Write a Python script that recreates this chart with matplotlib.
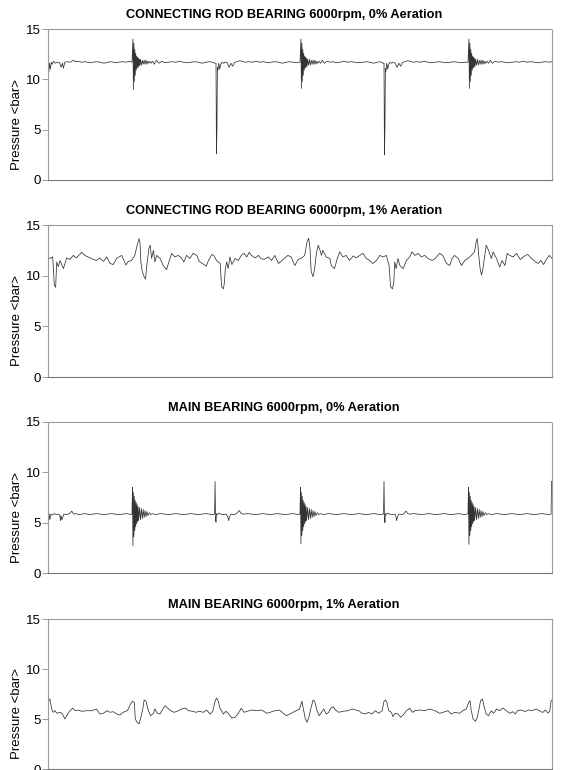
import matplotlib
matplotlib.use("Agg")
import matplotlib.pyplot as plt

# -------------------------------------------------------------------
# DATA (crank angle in degrees, pressure in bar)
# -------------------------------------------------------------------
titles = [
    "CONNECTING ROD BEARING 6000rpm, 0% Aeration",
    "CONNECTING ROD BEARING 6000rpm, 1% Aeration",
    "MAIN BEARING 6000rpm, 0% Aeration",
    "MAIN BEARING 6000rpm, 1% Aeration",
]
y_ticks = [0, 5, 10, 15]
y_label = "Pressure <bar>"

crod0_deg = [
    0, 1, 2, 3, 5, 7, 9, 12, 16, 20,
    25, 28, 31, 33, 36, 42, 48, 54, 58, 64,
    72, 80, 88, 96, 104, 112, 120, 128, 136, 144,
    152, 160, 168, 175, 180, 182, 183, 184, 185, 186,
    187, 188, 189, 190, 191, 192, 193, 194, 195, 196,
    197, 198, 200, 202, 204, 206, 208, 210, 212, 214,
    216, 218, 221, 224, 228, 232, 238, 244, 250, 258,
    266, 274, 282, 290, 298, 306, 314, 322, 330, 338,
    346, 352, 358, 360, 361, 362, 363, 364, 366, 368,
    370, 373, 376, 380, 384, 388, 392, 396, 400, 405,
    410, 416, 422, 430, 438, 446, 454, 462, 470, 478,
    486, 494, 502, 510, 518, 526, 534, 540, 542, 543,
    544, 545, 546, 547, 548, 549, 550, 551, 552, 553,
    554, 555, 556, 558, 560, 562, 564, 566, 568, 570,
    572, 574, 576, 578, 581, 584, 588, 592, 598, 604,
    610, 618, 626, 634, 642, 650, 658, 666, 674, 682,
    690, 698, 706, 712, 718, 720, 721, 722, 723, 724,
    726, 728, 730, 733, 736, 740, 744, 748, 752, 756,
    760, 765, 770, 776, 782, 790, 798, 806, 814, 822,
    830, 838, 846, 854, 862, 870, 878, 886, 894, 900,
    902, 903, 904, 905, 906, 907, 908, 909, 910, 911,
    912, 913, 914, 915, 916, 918, 920, 922, 924, 926,
    928, 930, 932, 934, 936, 938, 941, 944, 948, 952,
    958, 964, 970, 978, 986, 994, 1002, 1010, 1018, 1026,
    1034, 1042, 1050, 1058, 1066, 1074, 1080,
]
crod0_bar = [
    11.4, 11.7, 10.8, 11.6, 11.0, 11.7, 11.5, 11.8, 11.6, 11.7,
    11.65, 11.2, 11.6, 11.1, 11.7, 11.75, 11.7, 11.9, 11.75, 11.8,
    11.7, 11.75, 11.65, 11.7, 11.75, 11.7, 11.6, 11.7, 11.75, 11.65,
    11.7, 11.75, 11.7, 11.8, 11.7, 14.0, 9.0, 13.6, 9.8, 13.0,
    10.4, 12.6, 10.9, 12.3, 11.1, 12.2, 11.2, 12.1, 11.3, 12.0,
    11.4, 12.0, 11.4, 11.9, 11.5, 11.9, 11.5, 11.9, 11.5, 11.8,
    11.6, 11.8, 11.6, 11.8, 11.5, 11.9, 11.6, 11.8, 11.65, 11.7,
    11.75, 11.7, 11.8, 11.7, 11.65, 11.7, 11.75, 11.7, 11.6, 11.7,
    11.75, 11.7, 11.6, 11.6, 2.6, 5.0, 11.2, 10.9, 11.6, 11.0,
    11.5, 11.7, 11.6, 11.7, 11.65, 11.2, 11.6, 11.3, 11.7, 11.75,
    11.85, 11.8, 11.7, 11.75, 11.7, 11.8, 11.7, 11.75, 11.65, 11.7,
    11.75, 11.7, 11.6, 11.7, 11.75, 11.7, 11.65, 11.7, 14.0, 9.1,
    13.6, 9.8, 13.0, 10.4, 12.6, 10.9, 12.3, 11.1, 12.2, 11.2,
    12.1, 11.3, 12.0, 11.4, 12.0, 11.4, 11.9, 11.5, 11.9, 11.5,
    11.9, 11.5, 11.8, 11.6, 11.8, 11.6, 11.9, 11.6, 11.8, 11.7,
    11.75, 11.65, 11.7, 11.8, 11.7, 11.75, 11.7, 11.65, 11.7, 11.75,
    11.7, 11.6, 11.7, 11.75, 11.6, 11.6, 2.5, 5.2, 11.1, 10.8,
    11.6, 11.0, 11.5, 11.7, 11.6, 11.7, 11.6, 11.2, 11.6, 11.3,
    11.7, 11.75, 11.85, 11.8, 11.7, 11.75, 11.7, 11.8, 11.7, 11.65,
    11.7, 11.75, 11.7, 11.65, 11.7, 11.75, 11.7, 11.65, 11.7, 11.7,
    14.0, 9.1, 13.6, 9.8, 13.0, 10.4, 12.6, 10.9, 12.3, 11.1,
    12.2, 11.2, 12.1, 11.3, 12.0, 11.4, 12.0, 11.4, 11.9, 11.5,
    11.9, 11.5, 11.9, 11.5, 11.8, 11.6, 11.8, 11.6, 11.9, 11.6,
    11.8, 11.7, 11.75, 11.7, 11.65, 11.7, 11.75, 11.7, 11.8, 11.7,
    11.75, 11.7, 11.65, 11.7, 11.75, 11.7, 11.75,
]

crod1_deg = [
    0, 4, 10, 13.6, 16.4, 18.6, 22, 25.7, 33, 40,
    47, 54, 61, 72, 79, 90, 97, 104, 111, 119,
    126, 133, 140, 147, 158, 167, 172, 179, 186, 191,
    195, 197, 199, 202, 206, 209, 211, 216, 219, 222,
    226, 229, 233, 240, 247, 254, 258, 265, 272, 279,
    286, 291, 297, 304, 311, 319, 324, 331, 339, 344,
    351, 356, 361, 369, 372, 376, 378, 380, 383, 386,
    390, 394, 401, 408, 415, 420, 426, 431, 436, 444,
    451, 456, 463, 472, 479, 486, 494, 504, 514, 521,
    529, 536, 544, 550, 555, 558.6, 561.5, 564, 568, 571.5,
    575, 579, 582, 586, 589, 596, 604, 607, 614, 620,
    625, 632, 639, 646, 654, 661, 668, 675, 682, 689,
    696, 704, 711, 718, 725, 731, 734, 738, 741, 743,
    746, 750, 754, 761, 768, 775, 780, 786, 793, 800,
    807, 814, 823, 830, 839, 846, 854, 861, 866, 871,
    879, 886, 893, 900, 907, 914, 918, 920, 923, 926,
    929, 932, 936, 939, 944, 950, 954, 961, 968, 973,
    979, 984, 989, 997, 1004, 1012, 1020, 1028, 1036, 1044,
    1050, 1056, 1062, 1068, 1074, 1080,
]
crod1_bar = [
    11.8, 11.7, 11.85, 9.05, 8.85, 11.35, 10.9, 11.5, 10.7, 11.75,
    11.6, 12.0, 11.75, 12.3, 12.0, 11.75, 11.6, 11.5, 11.75, 11.4,
    11.85, 11.2, 11.1, 11.7, 12.0, 11.05, 11.4, 11.5, 12.0, 13.0,
    13.65, 13.3, 11.35, 10.4, 9.9, 9.65, 10.7, 12.65, 13.0, 11.7,
    12.5, 11.35, 12.0, 11.7, 11.0, 10.6, 11.2, 12.2, 11.85, 12.0,
    11.75, 11.35, 12.0, 11.7, 12.2, 12.0, 11.4, 11.2, 10.95, 11.5,
    12.1, 11.95, 11.5, 11.2, 8.9, 8.7, 9.35, 10.7, 11.35, 10.7,
    11.85, 11.1, 11.7, 11.5, 12.05, 12.2, 11.85, 12.3, 12.0, 11.75,
    12.0, 11.7, 11.6, 11.85, 11.5, 12.0, 11.2, 11.6, 12.0, 11.85,
    11.0, 11.6, 11.75, 12.0, 13.3, 13.7, 12.65, 10.4, 9.9, 10.7,
    12.2, 13.0, 12.65, 12.0, 12.5, 11.85, 11.7, 11.0, 10.7, 11.7,
    12.35, 11.85, 12.0, 11.5, 11.95, 11.75, 12.0, 12.2, 11.7, 11.5,
    11.2, 11.5, 12.0, 11.85, 12.0, 11.0, 8.9, 8.7, 9.35, 11.35,
    10.7, 11.7, 11.0, 10.7, 11.5, 11.85, 12.35, 12.0, 12.2, 11.85,
    12.0, 11.7, 11.5, 11.7, 12.2, 12.0, 11.2, 11.0, 11.7, 12.0,
    11.7, 11.0, 11.5, 11.7, 12.0, 12.35, 13.5, 13.65, 12.0, 10.7,
    10.05, 10.7, 12.0, 13.0, 12.5, 11.7, 12.35, 11.7, 10.85, 11.5,
    11.0, 12.2, 12.0, 11.85, 12.2, 11.6, 11.9, 12.1, 11.7, 11.4,
    11.2, 11.5, 11.1, 11.6, 12.0, 11.7,
]

main0_deg = [
    0, 1, 2, 4, 6, 9, 13, 18, 22, 25,
    27, 28, 30, 34, 40, 46, 51, 55, 60, 66,
    72, 80, 88, 96, 104, 112, 120, 128, 136, 144,
    152, 160, 168, 174, 178, 180, 181, 182, 183, 184,
    185, 186, 187, 188, 189, 190, 191, 192, 193, 194,
    196, 198, 200, 202, 204, 206, 208, 210, 212, 214,
    217, 220, 224, 230, 236, 242, 250, 258, 266, 274,
    282, 290, 298, 306, 314, 322, 330, 338, 346, 354,
    357, 358, 359, 360, 361, 363, 366, 370, 376, 382,
    386, 387, 389, 392, 398, 404, 410, 414, 420, 428,
    436, 444, 452, 460, 468, 476, 484, 492, 500, 508,
    516, 524, 532, 538, 540, 541, 542, 543, 544, 545,
    546, 547, 548, 549, 550, 551, 552, 553, 554, 556,
    558, 560, 562, 564, 566, 568, 570, 572, 574, 577,
    580, 584, 590, 596, 602, 610, 618, 626, 634, 642,
    650, 658, 666, 674, 682, 690, 698, 706, 714, 719,
    720, 721, 722, 723, 725, 728, 732, 738, 744, 746,
    747, 749, 752, 758, 763, 767, 771, 776, 784, 792,
    800, 808, 816, 824, 832, 840, 848, 856, 864, 872,
    880, 886, 892, 898, 900, 901, 902, 903, 904, 905,
    906, 907, 908, 909, 910, 911, 912, 913, 914, 916,
    918, 920, 922, 924, 926, 928, 930, 932, 934, 937,
    940, 944, 950, 956, 962, 970, 978, 986, 994, 1002,
    1010, 1018, 1026, 1034, 1042, 1050, 1058, 1066, 1074, 1078,
    1079, 1080,
]
main0_bar = [
    5.7, 4.95, 5.9, 5.3, 5.85, 5.75, 5.9, 5.8, 5.85, 5.75,
    5.2, 5.7, 5.3, 5.85, 5.8, 5.9, 6.15, 5.85, 5.9, 5.8,
    5.85, 5.9, 5.8, 5.85, 5.9, 5.85, 5.8, 5.85, 5.9, 5.85,
    5.8, 5.85, 5.9, 5.85, 5.8, 5.9, 8.5, 2.7, 8.0, 3.6,
    7.6, 4.2, 7.2, 4.6, 7.0, 4.9, 6.8, 5.1, 6.6, 5.2,
    6.5, 5.3, 6.4, 5.4, 6.3, 5.5, 6.2, 5.6, 6.1, 5.7,
    6.0, 5.8, 5.9, 5.8, 5.85, 5.9, 5.85, 5.8, 5.85, 5.9,
    5.85, 5.8, 5.85, 5.9, 5.85, 5.8, 5.85, 5.9, 5.85, 5.8,
    5.85, 9.1, 5.4, 5.05, 5.9, 5.8, 5.95, 5.85, 5.8, 5.85,
    5.5, 5.2, 5.6, 5.85, 5.8, 5.9, 6.2, 5.9, 5.85, 5.9,
    5.85, 5.8, 5.85, 5.9, 5.85, 5.8, 5.85, 5.9, 5.85, 5.8,
    5.85, 5.9, 5.85, 5.8, 5.9, 8.5, 2.9, 8.0, 3.7, 7.6,
    4.2, 7.2, 4.6, 7.0, 4.9, 6.8, 5.1, 6.6, 5.2, 6.5,
    5.3, 6.4, 5.4, 6.3, 5.5, 6.2, 5.6, 6.1, 5.7, 6.0,
    5.8, 5.9, 5.8, 5.85, 5.9, 5.85, 5.8, 5.85, 5.9, 5.85,
    5.8, 5.85, 5.9, 5.85, 5.8, 5.85, 5.9, 5.85, 5.8, 5.85,
    9.1, 5.5, 5.0, 5.9, 5.8, 5.95, 5.85, 5.8, 5.85, 5.5,
    5.2, 5.6, 5.85, 5.8, 5.9, 6.15, 5.9, 5.85, 5.9, 5.85,
    5.8, 5.85, 5.9, 5.85, 5.8, 5.85, 5.9, 5.85, 5.8, 5.85,
    5.9, 5.85, 5.8, 5.85, 5.9, 8.5, 2.85, 8.0, 3.7, 7.6,
    4.2, 7.2, 4.6, 7.0, 4.9, 6.8, 5.1, 6.6, 5.2, 6.5,
    5.3, 6.4, 5.4, 6.3, 5.5, 6.2, 5.6, 6.1, 5.7, 6.0,
    5.8, 5.9, 5.8, 5.85, 5.9, 5.85, 5.8, 5.85, 5.9, 5.85,
    5.8, 5.85, 5.9, 5.85, 5.8, 5.85, 5.9, 5.85, 5.8, 5.85,
    9.1, 9.1,
]

main1_deg = [
    0, 2, 4, 8, 11, 15, 19, 26, 31, 36,
    40, 47, 53, 58, 65, 72, 83, 94, 104, 111,
    119, 126, 133, 140, 147, 154, 161, 170, 177, 181,
    185, 187, 191, 195, 199, 203, 206, 210, 215, 220,
    226, 229, 234, 240, 246, 251, 256, 263, 270, 277,
    286, 294, 301, 310, 317, 324, 333, 340, 347, 353,
    358, 361, 365, 369, 372, 376, 381, 386, 394, 401,
    408, 414, 420, 427, 436, 447, 458, 469, 476, 486,
    496, 504, 511, 518, 525, 532, 539, 544, 548, 551.5,
    555, 559, 563, 568, 571.5, 576.5, 581, 586, 591, 596.5,
    601.5, 606, 611, 616, 623, 632, 643, 651.5, 659, 666,
    673, 680, 687, 694, 701.5, 708.6, 716, 720, 723, 726,
    730, 736, 739, 744, 750, 756, 763, 768, 775, 781,
    787, 796.5, 807, 818, 829, 839, 846.5, 857, 864, 871.5,
    882, 889, 896.5, 901.5, 904.3, 907, 911, 916, 920, 923.6,
    927, 931, 934, 939, 944, 950, 955, 961, 968, 975,
    982, 989, 996.5, 1001.5, 1006, 1014, 1022, 1030, 1038, 1046,
    1054, 1060, 1066, 1071, 1075, 1078, 1080,
]
main1_bar = [
    6.2, 6.9, 7.0, 6.0, 5.67, 5.83, 5.57, 5.67, 5.5, 5.0,
    5.33, 5.83, 6.1, 5.83, 5.9, 5.77, 5.83, 5.83, 6.0, 5.5,
    5.57, 5.83, 5.67, 5.73, 5.5, 5.4, 5.67, 5.83, 6.5, 6.77,
    6.67, 5.0, 4.67, 4.5, 5.17, 6.0, 6.9, 6.77, 5.83, 5.33,
    5.57, 6.0, 5.57, 5.5, 6.0, 6.33, 6.1, 5.83, 5.67, 5.77,
    6.0, 6.1, 5.83, 5.77, 5.67, 5.77, 5.67, 5.9, 5.5, 5.77,
    6.77, 7.1, 6.77, 6.0, 5.83, 5.5, 5.77, 5.57, 5.1, 5.17,
    5.57, 6.07, 5.67, 5.77, 5.9, 5.83, 5.9, 5.57, 5.67, 5.83,
    5.9, 5.57, 5.33, 5.5, 5.67, 5.83, 6.0, 6.77, 5.83, 5.0,
    4.67, 5.17, 6.0, 6.9, 6.77, 5.83, 5.33, 5.67, 6.0, 5.5,
    5.67, 6.07, 6.23, 5.9, 5.67, 5.77, 5.83, 6.0, 5.9, 5.83,
    5.57, 5.5, 5.67, 5.5, 5.83, 5.57, 5.83, 6.77, 6.9, 6.67,
    5.83, 5.67, 5.23, 5.57, 5.5, 5.17, 5.5, 5.83, 6.07, 5.67,
    5.83, 5.9, 5.83, 6.0, 5.83, 5.57, 5.67, 5.83, 5.5, 5.67,
    5.57, 5.83, 6.0, 6.67, 6.83, 5.83, 5.0, 4.77, 5.17, 6.0,
    6.83, 7.0, 6.33, 5.5, 5.33, 5.83, 5.57, 6.0, 5.83, 6.1,
    5.83, 5.57, 5.73, 5.5, 5.83, 5.9, 5.75, 5.9, 5.85, 6.0,
    5.8, 5.65, 5.9, 5.6, 5.75, 6.8, 6.9,
]

series = [
    (crod0_deg, crod0_bar),
    (crod1_deg, crod1_bar),
    (main0_deg, main0_bar),
    (main1_deg, main1_bar),
]

# -------------------------------------------------------------------
# FIGURE: four stacked panels, 561 x 770 px
# -------------------------------------------------------------------
plt.rcParams["font.family"] = ["Liberation Sans", "DejaVu Sans"]

fig = plt.figure(figsize=(5.61, 7.70), dpi=100)

# panel boxes in pixels: (top, bottom)
left_px, right_px = 48, 552
panel_px = [(29, 180), (225, 377), (422, 573), (619, 769)]

for (top, bottom), title, (deg, bar) in zip(panel_px, titles, series):
    ax = fig.add_axes([
        left_px / 561,
        1 - bottom / 770,
        (right_px - left_px) / 561,
        (bottom - top) / 770,
    ])
    ax.plot(deg, bar, color="#333333", linewidth=0.55)

    ax.set_xlim(0, 1080)
    ax.set_ylim(0, 15)
    ax.set_xticks([])
    ax.set_yticks(y_ticks)
    ax.tick_params(axis="y", length=4, width=0.6, color="#888888",
                   labelsize=9.5, pad=1)

    for side in ["top", "right", "left"]:
        ax.spines[side].set_color("#9a9a9a")
        ax.spines[side].set_linewidth(0.8)
        ax.spines[side].set_linestyle((0, (1, 1)))
    ax.spines["bottom"].set_color("#777777")
    ax.spines["bottom"].set_linewidth(0.8)

    ax.text(0.468, 1.093, title, transform=ax.transAxes, ha="center",
            va="center", fontsize=9.2, fontweight="bold")
    ax.set_ylabel(y_label, fontsize=9.5)
    ax.yaxis.set_label_coords(-0.05, 0.37)

fig.savefig("out.png", dpi=100)
